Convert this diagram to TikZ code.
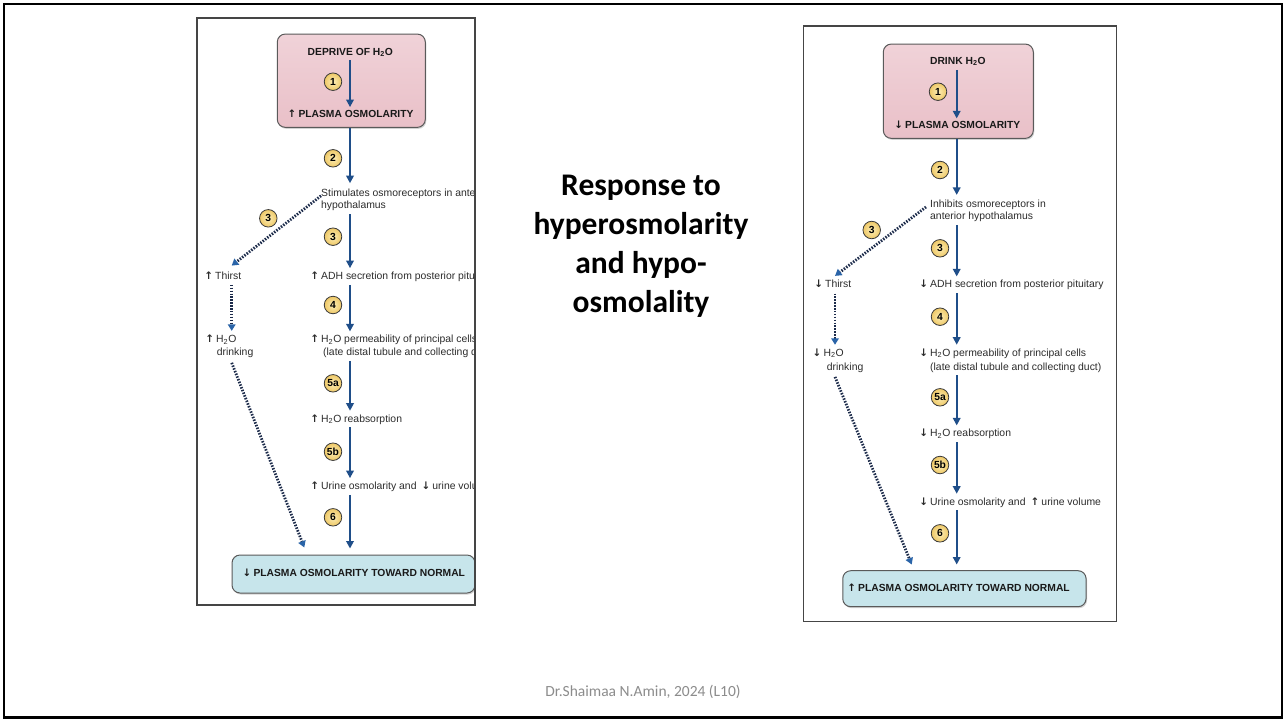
\documentclass[tikz,border=0pt]{standalone}
\usepackage{fontspec}
\setmainfont{Liberation Sans}
\newfontfamily\titlefont{Carlito}
\newfontfamily\arrowfont{DejaVu Sans}
\usetikzlibrary{arrows.meta,shadows,calc}
\definecolor{navy}{HTML}{1F4E89}
\definecolor{dotnavy}{HTML}{1C2B4A}
\definecolor{tipblue}{HTML}{2A64A8}
\definecolor{pinktop}{HTML}{F0D2D8}
\definecolor{pinkbot}{HTML}{E9C0C8}
\definecolor{bluefill}{HTML}{C7E5EB}
\definecolor{circin}{HTML}{FCEDB6}
\definecolor{circout}{HTML}{EEC866}
\definecolor{circline}{HTML}{3A3A3A}
\definecolor{framegray}{HTML}{454545}
\definecolor{boxgray}{HTML}{5A5A5A}
\definecolor{textgray}{HTML}{2C2C2C}
\definecolor{footgray}{HTML}{8C8C8C}
\newcommand\UpA{\makebox[13pt][c]{\arrowfont\bfseries ↑}}
\newcommand\DnA{\makebox[13pt][c]{\arrowfont\bfseries ↓}}
\newcommand\HtwoO{H\textsubscript{2}O}
\begin{document}
\begin{tikzpicture}[x=1pt,y=-1pt,
  frame/.style={draw=framegray, line width=1.3pt},
  pinkbox/.style={draw=boxgray, line width=1pt, rounded corners=8pt, top color=pinktop, bottom color=pinkbot,
    drop shadow={shadow xshift=1pt, shadow yshift=-1.5pt, opacity=0.35}},
  bluebox/.style={draw=boxgray, line width=1pt, rounded corners=8pt, fill=bluefill,
    drop shadow={shadow xshift=1pt, shadow yshift=-1.5pt, opacity=0.35}},
  boxtext/.style={font=\fontsize{10.3}{12}\selectfont\bfseries, text=black!90, inner sep=0pt, text height=7.6pt, text depth=2.2pt},
  steptext/.style={font=\fontsize{10.4}{12.7}\selectfont, text=textgray, inner sep=0pt, text height=7.6pt, text depth=2.2pt, anchor=west},
  num/.style={circle, draw=circline, line width=0.8pt, inner sep=0pt, minimum size=17.5pt, inner color=circin, outer color=circout,
    font=\fontsize{10.3}{11}\selectfont\bfseries},
  mainarr/.style={draw=navy, line width=1.8pt, shorten <=3pt, shorten >=3.5pt, -{Triangle[width=7.5pt,length=7.5pt]}},
  dotarr/.style={draw=dotnavy, line width=2.8pt, dash pattern=on 1.5pt off 1.4pt, -{Triangle[width=7.5pt,length=6.5pt,color=tipblue]}}
]
\useasboundingbox (0,0) rectangle (1284,718);
\fill[white] (0,0) rectangle (1284,718);
\draw[line width=2.2pt] (4,4) rectangle (1282,717.5);

% ---------------- left panel ----------------
\begin{scope}
\clip (197,18) rectangle (475,605);
\coordinate (Lax) at (350,0);
\coordinate (Ldx) at (231.7,0);
\coordinate (Ldt) at (304.3,0);
\node[pinkbox, minimum width=148pt, minimum height=93.3pt] (Lpink) at (351.3,80.7) {};
\node[boxtext] (Ltop) at (350.3,52.3) {DEPRIVE OF \HtwoO};
\node[boxtext, anchor=west] (Lplasma) at (285.3,114.3) {\UpA PLASMA OSMOLARITY};
\node[num] (Ln1) at (333,81.7) {1};
\draw[mainarr, shorten <=2.8pt, shorten >=2.1pt] (Ltop.south -| Lax) -- (Lplasma.north -| Lax);

\node[steptext] (Lstim1) at (321,193.3) {Stimulates osmoreceptors in anterior};
\node[steptext] (Lstim2) at (321,206) {hypothalamus};
\node[steptext] (Ladh) at (308,276.7) {\UpA ADH secretion from posterior pituitary};
\node[steptext] (Lperm1) at (308,340) {\UpA \HtwoO\ permeability of principal cells};
\node[steptext] (Lperm2) at (323,352.7) {(late distal tubule and collecting duct)};
\node[steptext] (Lreab) at (308,419.3) {\UpA \HtwoO\ reabsorption};
\node[steptext] (Lurine) at (308,486.7) {\UpA Urine osmolarity and \DnA urine volume};
\node[steptext] (Lthirst) at (202,276.7) {\UpA Thirst};
\node[steptext] (Ldrink1) at (203,340) {\UpA \HtwoO};
\node[steptext] (Ldrink2) at (216.7,352.7) {drinking};
\node[bluebox, minimum width=243pt, minimum height=38pt] (Lblue) at (353.5,574) {};
\node[boxtext, anchor=west] (Lnormal) at (240.3,573.3) {\DnA PLASMA OSMOLARITY TOWARD NORMAL};

\draw[mainarr, shorten <=0pt, shorten >=5pt] (Lpink.south -| Lax) -- (Lstim1.north -| Lax);
\draw[mainarr] (Lstim2.south -| Lax) -- (Ladh.north -| Lax);
\draw[mainarr] (Ladh.south -| Lax) -- (Lperm1.north -| Lax);
\draw[mainarr] (Lperm2.south -| Lax) -- (Lreab.north -| Lax);
\draw[mainarr] (Lreab.south -| Lax) -- (Lurine.north -| Lax);
\draw[mainarr, shorten >=6pt] (Lurine.south -| Lax) -- (Lblue.north -| Lax);

\node[num] (Ln2) at (333,158.3) {2};
\node[num] (Ln3) at (333,236.7) {3};
\node[num] (Ln4) at (333,305) {4};
\node[num] (Ln5a) at (333,383.3) {5a};
\node[num] (Ln5b) at (333,451.7) {5b};
\node[num] (Ln6) at (333,517.3) {6};
\node[num] (Ln3b) at (268.3,218.3) {3};

\draw[dotarr] ($(Lstim1.west)+(0,2.5)$) -- ($(Lthirst.north -| Ldx)+(0,-6)$);
\draw[dotarr, shorten <=3pt, shorten >=4pt] (Lthirst.south -| Ldx) -- (Ldrink1.north -| Ldx);
\draw[dotarr] ($(Ldrink2.south -| Ldx)+(0,5)$) -- ($(Lblue.north -| Ldt)+(0,-7)$);
\end{scope}
\draw[frame] (197,18) rectangle (475,605);

% ---------------- right panel ----------------
\draw[frame] (803.3,26) rectangle (1116.7,621.7);
\coordinate (Rax) at (956.7,0);
\coordinate (Rdx) at (835,0);
\coordinate (Rdt) at (911.7,0);
\node[pinkbox, minimum width=150pt, minimum height=94.3pt] (Rpink) at (958.3,91.2) {};
\node[boxtext] (Rtop) at (957.8,61.7) {DRINK \HtwoO};
\node[boxtext, anchor=west] (Rplasma) at (892,126) {\DnA PLASMA OSMOLARITY};
\node[num] (Rn1) at (938,91.7) {1};
\draw[mainarr, shorten <=3pt, shorten >=2.5pt] (Rtop.south -| Rax) -- (Rplasma.north -| Rax);

\node[steptext] (Rstim1) at (930,205) {Inhibits osmoreceptors in};
\node[steptext] (Rstim2) at (930,216.7) {anterior hypothalamus};
\node[steptext] (Radh) at (917,285) {\DnA ADH secretion from posterior pituitary};
\node[steptext] (Rperm1) at (917,353.3) {\DnA \HtwoO\ permeability of principal cells};
\node[steptext] (Rperm2) at (930,367.3) {(late distal tubule and collecting duct)};
\node[steptext] (Rreab) at (917,434) {\DnA \HtwoO\ reabsorption};
\node[steptext] (Rurine) at (917,502.3) {\DnA Urine osmolarity and \UpA urine volume};
\node[steptext] (Rthirst) at (812,285) {\DnA Thirst};
\node[steptext] (Rdrink1) at (810.3,353.3) {\DnA \HtwoO};
\node[steptext] (Rdrink2) at (826.7,367.3) {drinking};
\node[bluebox, minimum width=243.3pt, minimum height=36pt] (Rblue) at (964.4,588.7) {};
\node[boxtext, anchor=west] (Rnormal) at (845,588.3) {\UpA PLASMA OSMOLARITY TOWARD NORMAL};

\draw[mainarr, shorten <=0pt, shorten >=5pt] (Rpink.south -| Rax) -- (Rstim1.north -| Rax);
\draw[mainarr] (Rstim2.south -| Rax) -- (Radh.north -| Rax);
\draw[mainarr] (Radh.south -| Rax) -- (Rperm1.north -| Rax);
\draw[mainarr] (Rperm2.south -| Rax) -- (Rreab.north -| Rax);
\draw[mainarr] (Rreab.south -| Rax) -- (Rurine.north -| Rax);
\draw[mainarr, shorten >=5.7pt] (Rurine.south -| Rax) -- (Rblue.north -| Rax);

\node[num] (Rn2) at (940,170) {2};
\node[num] (Rn3) at (940,248.3) {3};
\node[num] (Rn4) at (940,316.7) {4};
\node[num] (Rn5a) at (940,397.3) {5a};
\node[num] (Rn5b) at (940,465) {5b};
\node[num] (Rn6) at (940,533.3) {6};
\node[num] (Rn3b) at (871.7,230) {3};

\draw[dotarr] ($(Rstim1.west)+(-4,2)$) -- ($(Rthirst.north -| Rdx)+(0,-4)$);
\draw[dotarr, shorten <=3.4pt, shorten >=3.4pt] (Rthirst.south -| Rdx) -- (Rdrink1.north -| Rdx);
\draw[dotarr] ($(Rdrink2.south -| Rdx)+(0,4.5)$) -- ($(Rblue.north -| Rdt)+(0,-5.7)$);

% ---------------- centre title and footer ----------------
\node[font=\titlefont\bfseries\fontsize{31.5}{39}\selectfont, align=center, inner sep=0pt, anchor=north] (title) at (641,174.5)
  {Response to\\hyperosmolarity\\and hypo-\\osmolality};
\node[font=\titlefont\fontsize{15.5}{18}\selectfont, text=footgray, anchor=base, inner sep=0pt] (foot) at (643,696)
  {Dr.Shaimaa N.Amin, 2024 (L10)};
\end{tikzpicture}
\end{document}
